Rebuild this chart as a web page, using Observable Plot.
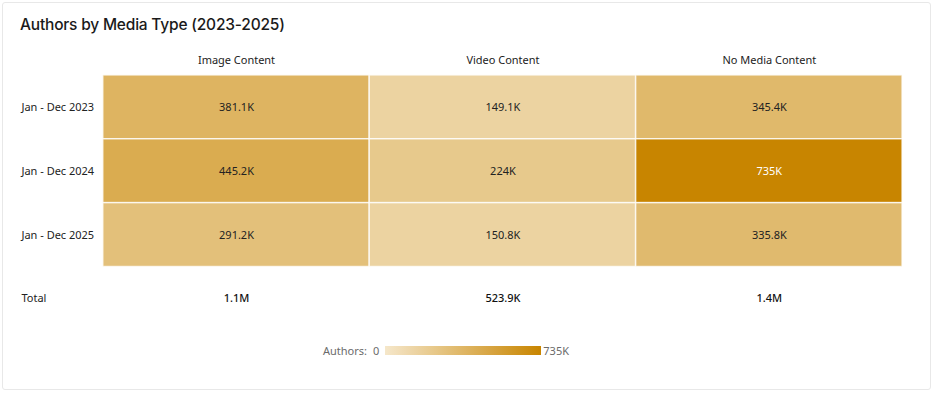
<!DOCTYPE html>
<html>
<head>
<meta charset="utf-8">
<script src="https://cdn.jsdelivr.net/npm/d3@7"></script>
<script src="https://cdn.jsdelivr.net/npm/@observablehq/plot@0.6"></script>
<style>
  html, body { margin: 0; padding: 0; background: #fff; }
  body { width: 936px; height: 394px; position: relative; overflow: hidden; font-family: "Noto Sans", "Open Sans", sans-serif; }
  #card { position: absolute; left: 2px; top: 2px; width: 929px; height: 388px; border: 1px solid #e8e8e8; border-radius: 3px; box-sizing: border-box; background: #fff; }
  #title { position: absolute; left: 17px; top: 12px; font-family: Inter, "Noto Sans", sans-serif; font-size: 15.5px; font-weight: 500; color: #1a1a1a; letter-spacing: -0.2px; }
  #chart { position: absolute; left: 0; top: 34px; }
  #legend { position: absolute; top: 340px; left: 320px; display: flex; align-items: center; font-size: 11px; color: #6b6b6b; }
  #legend .bar { width: 156px; height: 9px; margin: 0 2px 0 6px; }
</style>
</head>
<body>
<div id="card">
  <div id="title">Authors by Media Type (2023-2025)</div>
  <div id="chart"></div>
  <div id="legend"></div>
</div>
<script>
const mediaTypes = ["Image Content", "Video Content", "No Media Content"];
const periods = ["Jan - Dec 2023", "Jan - Dec 2024", "Jan - Dec 2025"];
const imageValues = [381.1, 445.2, 291.2];
const videoValues = [149.1, 224, 150.8];
const noMediaValues = [345.4, 735, 335.8];
const totalLabels = ["1.1M", "523.9K", "1.4M"];
const totalRowLabel = "Total";
const legendLabel = "Authors:";
const colorMin = 0, colorMax = 735;

const seriesByType = [imageValues, videoValues, noMediaValues];
const cells = [];
mediaTypes.forEach((m, i) => periods.forEach((p, j) => cells.push({media: m, period: p, value: seriesByType[i][j]})));
const totals = mediaTypes.map((m, i) => ({media: m, label: totalLabels[i]}));

const fmt = v => (Number.isInteger(v) ? v : v.toFixed(1)) + "K";
const rampColors = ["#f5e7ca", "#c88500"];
const interp = d3.interpolateRgb(rampColors[0], rampColors[1]);

const chart = Plot.plot({
  width: 929,
  height: 295,
  marginTop: 36,
  marginLeft: 99,
  marginRight: 27,
  marginBottom: 0,
  style: {fontFamily: "'Noto Sans', 'Open Sans', sans-serif", fontSize: "11px", color: "#222"},
  x: {domain: mediaTypes, padding: 0, axis: "top", label: null, tickSize: 0, tickPadding: 9},
  y: {domain: [...periods, totalRowLabel], padding: 0, axis: null},
  color: {type: "linear", domain: [colorMin, colorMax], range: rampColors, interpolate: "rgb"},
  marks: [
    Plot.cell(cells, {x: "media", y: "period", fill: "value", stroke: "#fff", strokeWidth: 1.5, strokeOpacity: 0.75}),
    Plot.text(cells, {x: "media", y: "period", text: d => fmt(d.value), fill: d => d.value > 600 ? "#fff" : "#222", fontSize: 11}),
    Plot.text([...periods, totalRowLabel], {y: d => d, text: d => d, frameAnchor: "left", textAnchor: "start", dx: -81, fill: "#222", fontSize: 11, fontWeight: d => d === totalRowLabel ? 500 : 400}),
    Plot.text(totals, {x: "media", y: () => totalRowLabel, text: "label", fill: "#111", fontSize: 11, fontWeight: 500})
  ]
});
document.getElementById("chart").appendChild(chart);

const legend = document.getElementById("legend");
const stops = d3.range(0, 1.0001, 0.1).map(t => interp(t) + " " + (t * 100) + "%").join(",");
legend.innerHTML = `<span>${legendLabel}</span><span style="margin-left:6px">${colorMin}</span><div class="bar" style="background:linear-gradient(to right, ${stops})"></div><span>${colorMax}K</span>`;
</script>
</body>
</html>
